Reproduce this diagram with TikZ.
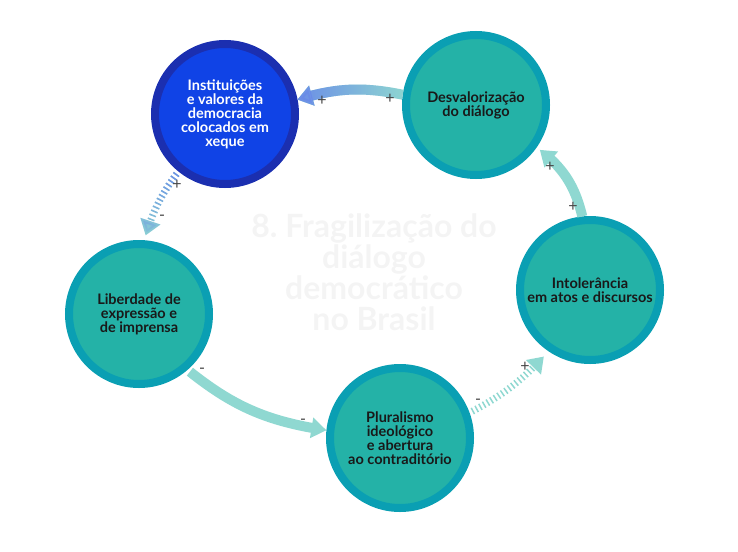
\documentclass[tikz,border=0pt]{standalone}
\usepackage{fontspec}
\setmainfont{Lato}
\usetikzlibrary{arrows.meta,bending,fadings}
\definecolor{fdring}{HTML}{0A9FB3}
\definecolor{fdfill}{HTML}{24B2A7}
\definecolor{fdblring}{HTML}{1B2FB0}
\definecolor{fdblfill}{HTML}{1043E6}
\definecolor{fdarr}{HTML}{8FD8D1}
\definecolor{fdbluearr}{HTML}{6A8BE8}
\definecolor{fdsign}{HTML}{444444}
\definecolor{fdtitlecol}{HTML}{F4F4F4}
\tikzfading[name=fdfadeeast, left color=transparent!0, right color=transparent!100]
\tikzfading[name=fdfadesouth, top color=transparent!0, bottom color=transparent!100]
\tikzset{
  fdcirc/.style={circle,draw=fdring,fill=fdfill,line width=8pt,minimum size=140pt,inner sep=0pt,
    align=center,text=black!90,font=\fontsize{14.5}{14}\selectfont\bfseries},
  fdblcirc/.style={fdcirc,draw=fdblring,fill=fdblfill,text=white},
  fdarrow/.style={->,line width=10pt,draw=fdarr},
  fdstripe/.style={->,line width=7pt,dash pattern=on 1.5pt off 2.8pt,draw=fdarr},
  fdsgn/.style={inner sep=0pt,text=fdsign,font=\fontsize{16}{16}\selectfont}
}
\begin{document}
\begin{tikzpicture}[x=1pt,y=-1pt,>={Triangle[width=20pt,length=15pt]}]
\useasboundingbox (0,0) rectangle (738,551);
% background title
\node[align=center,text=fdtitlecol,font=\fontsize{32}{31}\selectfont\bfseries] (fdtitle) at (374,272)
  {8.\ Fragilização do\\diálogo\\democrático\\no Brasil};
% circles
\node[fdblcirc] (fdinst) at (225,114) {Instituições\\e valores da\\democracia\\colocados em\\xeque};
\node[fdcirc] (fddesv) at (476,105) {Desvalorização\\do diálogo};
\node[fdcirc] (fdintol) at (590,290) {Intolerância\\em atos e discursos};
\node[fdcirc] (fdplur) at (400,438) {Pluralismo\\ideológico\\e abertura\\ao contraditório};
\node[fdcirc] (fdlib) at (139,314) {Liberdade de\\expressão e\\de imprensa};
% arrows
\draw[fdarrow] (fddesv.172) to[bend right=14] ([yshift=-1pt]fdinst.12);
\draw[fdarrow,draw=fdbluearr,path fading=fdfadeeast] (fddesv.172) to[bend right=14] ([yshift=-1pt]fdinst.12);
\draw[fdstripe,shorten <=3pt,shorten >=5pt] (fdinst.231) to[bend right=10] (fdlib.86);
\draw[fdstripe,draw=fdbluearr,path fading=fdfadesouth,shorten <=3pt,shorten >=5pt] (fdinst.231) to[bend right=10] (fdlib.86);
\draw[fdarrow,shorten <=3pt] (fdlib.-49) to[bend right=15] (fdplur.174);
\draw[fdstripe,shorten <=3pt,shorten >=7pt] (fdplur.20) to[bend right=10] (fdintol.236);
\draw[fdarrow,shorten >=4pt] (fdintol.96) to[bend right=20] (fddesv.-35);
% signs
\node[fdsgn] (fdsa) at (390,99) {+};
\node[fdsgn] (fdsb) at (322,101) {+};
\node[fdsgn] (fdsc) at (177,185) {+};
\node[fdsgn] (fdsd) at (162,218) {-};
\node[fdsgn] (fdse) at (202,371) {-};
\node[fdsgn] (fdsf) at (303,422) {-};
\node[fdsgn] (fdsg) at (478,402) {-};
\node[fdsgn] (fdsh) at (525,367) {+};
\node[fdsgn] (fdsi) at (550,167) {+};
\node[fdsgn] (fdsj) at (573,207) {+};
\end{tikzpicture}
\end{document}
